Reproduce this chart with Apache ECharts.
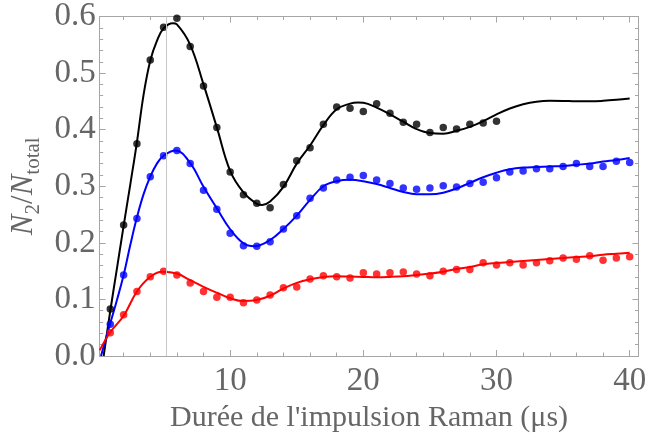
<!DOCTYPE html>
<html>
<head>
<meta charset="utf-8">
<script src="https://cdn.jsdelivr.net/npm/echarts@6/dist/echarts.min.js"></script>
<style>html,body{margin:0;padding:0;background:#fff}#c{width:649px;height:441px}</style>
</head>
<body>
<div id="c"></div>
<script>
// ---- data ----
const blackX = [1,2,3,4,5,6,7,8,9,10,11,12,13,14,15,16,17,18,19,20,21,22,23,24,25,26,27,28,29,30];
const blackY = [0.083,0.2315,0.375,0.523,0.581,0.597,0.547,0.477,0.404,0.325,0.285,0.270,0.262,0.303,0.345,0.368,0.4095,0.44,0.438,0.432,0.446,0.429,0.413,0.4095,0.395,0.404,0.401,0.4095,0.412,0.415];
const blueX = [1,2,3,4,5,6,7,8,9,10,11,12,13,14,15,16,17,18,19,20,21,22,23,24,25,26,27,28,29,30,31,32,33,34,35,36,37,38,39,40];
const blueY = [0.056,0.143,0.243,0.317,0.354,0.363,0.340,0.293,0.2595,0.217,0.195,0.194,0.202,0.2245,0.248,0.279,0.297,0.311,0.316,0.319,0.311,0.305,0.297,0.2945,0.297,0.301,0.2986,0.305,0.307,0.315,0.325,0.327,0.331,0.331,0.335,0.340,0.335,0.335,0.344,0.342];
const redX = [1,2,3,4,5,6,7,8,9,10,11,12,13,14,15,16,17,18,19,20,21,22,23,24,25,26,27,28,29,30,31,32,33,34,35,36,37,38,39,40];
const redY = [0.041,0.073,0.114,0.140,0.150,0.143,0.129,0.114,0.104,0.104,0.094,0.099,0.108,0.1205,0.122,0.136,0.142,0.140,0.138,0.147,0.145,0.147,0.1485,0.145,0.142,0.150,0.153,0.153,0.165,0.161,0.165,0.161,0.165,0.1685,0.173,0.171,0.177,0.169,0.173,0.1755];

const blackFitX = [0.5,1,1.5,2,2.5,3,3.5,4,4.5,5,5.7,6,7,8,9,10,11,12,12.4,13,14,15,16,17,18,19,19.6,20,21,22,23,24,25,26,27,28,29,30,31,32,33,34,35,36,37,38,39,40];
const blackFitY = [0.0,0.08,0.155,0.23,0.303,0.378,0.462,0.522,0.557,0.579,0.588,0.586,0.55,0.48,0.404,0.327,0.289,0.269,0.267,0.273,0.299,0.340,0.372,0.408,0.436,0.446,0.448,0.4475,0.439,0.427,0.414,0.401,0.394,0.393,0.398,0.405,0.415,0.427,0.4375,0.445,0.4495,0.451,0.4508,0.4502,0.4502,0.451,0.4527,0.455];
const blueFitX = [0.3,1,1.5,2,2.5,3,3.5,4,4.5,5,5.9,7,8,9,10,11,11.8,13,14,15,16,17,18,19,20,21,22,23,24,25,26,27,28,29,30,31,32,33,34,35,36,37,38,39,40];
const blueFitY = [0.0,0.058,0.099,0.143,0.196,0.245,0.286,0.317,0.340,0.354,0.363,0.341,0.299,0.261,0.224,0.199,0.194,0.205,0.2245,0.248,0.276,0.300,0.309,0.3114,0.309,0.304,0.297,0.290,0.286,0.2858,0.2886,0.296,0.306,0.316,0.324,0.330,0.333,0.334,0.335,0.336,0.338,0.340,0.3436,0.3464,0.350];
const redFitX = [0.2,1,2,3,4,4.9,6,7,8,9,10,11,12,13,14,15,16,17,18,19,20,21,22,23,24,25,26,27,28,29,30,31,32,33,34,35,36,37,38,39,40];
const redFitY = [0.01,0.042,0.071,0.114,0.140,0.149,0.1457,0.134,0.1223,0.1118,0.102,0.097,0.099,0.1065,0.1194,0.1293,0.1357,0.1398,0.141,0.1404,0.1398,0.1392,0.1398,0.141,0.1433,0.1457,0.149,0.1538,0.1573,0.162,0.1643,0.166,0.1678,0.1695,0.1713,0.173,0.1748,0.1765,0.179,0.1807,0.1825];

const markerX = 5.2;
const xMajorTicks = [10,20,30,40];
const xMinorTicks = [2,4,6,8,12,14,16,18,22,24,26,28,32,34,36,38];
const yMajorTicks = [0,0.1,0.2,0.3,0.4,0.5,0.6];
const yMinorTicks = [0.02,0.04,0.06,0.08,0.12,0.14,0.16,0.18,0.22,0.24,0.26,0.28,0.32,0.34,0.36,0.38,0.42,0.44,0.46,0.48,0.52,0.54,0.56,0.58];
const xTitle = "Durée de l'impulsion Raman (μs)";

// ---- chart ----
const XMIN = 0.2, XMAX = 40.66, YMIN = 0, YMAX = 0.6;
const frame = '#a6a6a6';
const txt = '#666666';
const font = 'Liberation Serif';
const pairs = (xs, ys) => xs.map((x, i) => [x, ys[i]]);

function xAx(pos, ticks, len, labels, extra) {
  return Object.assign({
    type: 'value', min: XMIN, max: XMAX, position: pos,
    axisLine: { show: true, onZero: false, lineStyle: { color: frame, width: 1 } },
    axisTick: { show: true, inside: true, length: len, customValues: ticks, lineStyle: { color: frame } },
    axisLabel: labels ? { show: true, customValues: ticks, color: txt, fontFamily: font, fontSize: 33, margin: 9 } : { show: false },
    splitLine: { show: false }
  }, extra || {});
}
function yAx(pos, ticks, len, labels, extra) {
  return Object.assign({
    type: 'value', min: YMIN, max: YMAX, position: pos,
    axisLine: { show: true, onZero: false, lineStyle: { color: frame, width: 1 } },
    axisTick: { show: true, inside: true, length: len, customValues: ticks, lineStyle: { color: frame } },
    axisLabel: labels ? { show: true, customValues: ticks, color: txt, fontFamily: font, fontSize: 33, margin: 4, formatter: v => v.toFixed(1) } : { show: false },
    splitLine: { show: false }
  }, extra || {});
}

const chart = echarts.init(document.getElementById('c'), null, { renderer: 'canvas' });
chart.setOption({
  animation: false,
  backgroundColor: '#ffffff',
  grid: { left: 89, right: 6, top: 13, bottom: 85, containLabel: false },
  xAxis: [
    xAx('bottom', xMajorTicks, 6, true, {
      name: xTitle, nameLocation: 'middle', nameGap: 42,
      nameTextStyle: { color: txt, fontFamily: font, fontSize: 30 }
    }),
    xAx('bottom', xMinorTicks, 3.5, false),
    xAx('top', xMajorTicks, 6, false),
    xAx('top', xMinorTicks, 3.5, false)
  ],
  yAxis: [
    yAx('left', yMajorTicks, 6, true, {
      name: '{i|N}{s|2}{n|/}{i|N}{s|total}', nameLocation: 'middle', nameGap: 54, nameRotate: 90,
      nameTextStyle: {
        color: txt, fontFamily: font, fontSize: 31,
        rich: {
          i: { fontStyle: 'italic', fontFamily: font, fontSize: 31, color: txt, lineHeight: 40, verticalAlign: 'middle' },
          n: { fontFamily: font, fontSize: 31, color: txt, lineHeight: 40, verticalAlign: 'middle' },
          s: { fontFamily: font, fontSize: 21, color: txt, lineHeight: 40, verticalAlign: 'bottom' }
        }
      }
    }),
    yAx('left', yMinorTicks, 3.5, false),
    yAx('right', yMajorTicks, 6, false),
    yAx('right', yMinorTicks, 3.5, false)
  ],
  series: [
    {
      type: 'line', data: [], silent: true,
      markLine: {
        symbol: 'none', silent: true, label: { show: false },
        lineStyle: { color: '#c8c8c8', width: 1, type: 'solid' },
        data: [{ xAxis: markerX }]
      }
    },
    { type: 'line', data: pairs(blackFitX, blackFitY), smooth: 0.4, showSymbol: false, lineStyle: { color: '#000000', width: 2 }, itemStyle: { color: '#000000' }, clip: true, z: 3 },
    { type: 'line', data: pairs(blueFitX, blueFitY), smooth: 0.4, showSymbol: false, lineStyle: { color: '#0000ff', width: 2 }, itemStyle: { color: '#0000ff' }, clip: true, z: 3 },
    { type: 'line', data: pairs(redFitX, redFitY), smooth: 0.4, showSymbol: false, lineStyle: { color: '#ff0000', width: 2 }, itemStyle: { color: '#ff0000' }, clip: true, z: 3 },
    { type: 'scatter', data: pairs(blackX, blackY), symbol: 'circle', symbolSize: 7.5, itemStyle: { color: '#000000' }, z: 4 },
    { type: 'scatter', data: pairs(blueX, blueY), symbol: 'circle', symbolSize: 7.5, itemStyle: { color: '#0000ff' }, z: 4 },
    { type: 'scatter', data: pairs(redX, redY), symbol: 'circle', symbolSize: 7.5, itemStyle: { color: '#ff0000' }, z: 4 }
  ]
});
</script>
</body>
</html>
